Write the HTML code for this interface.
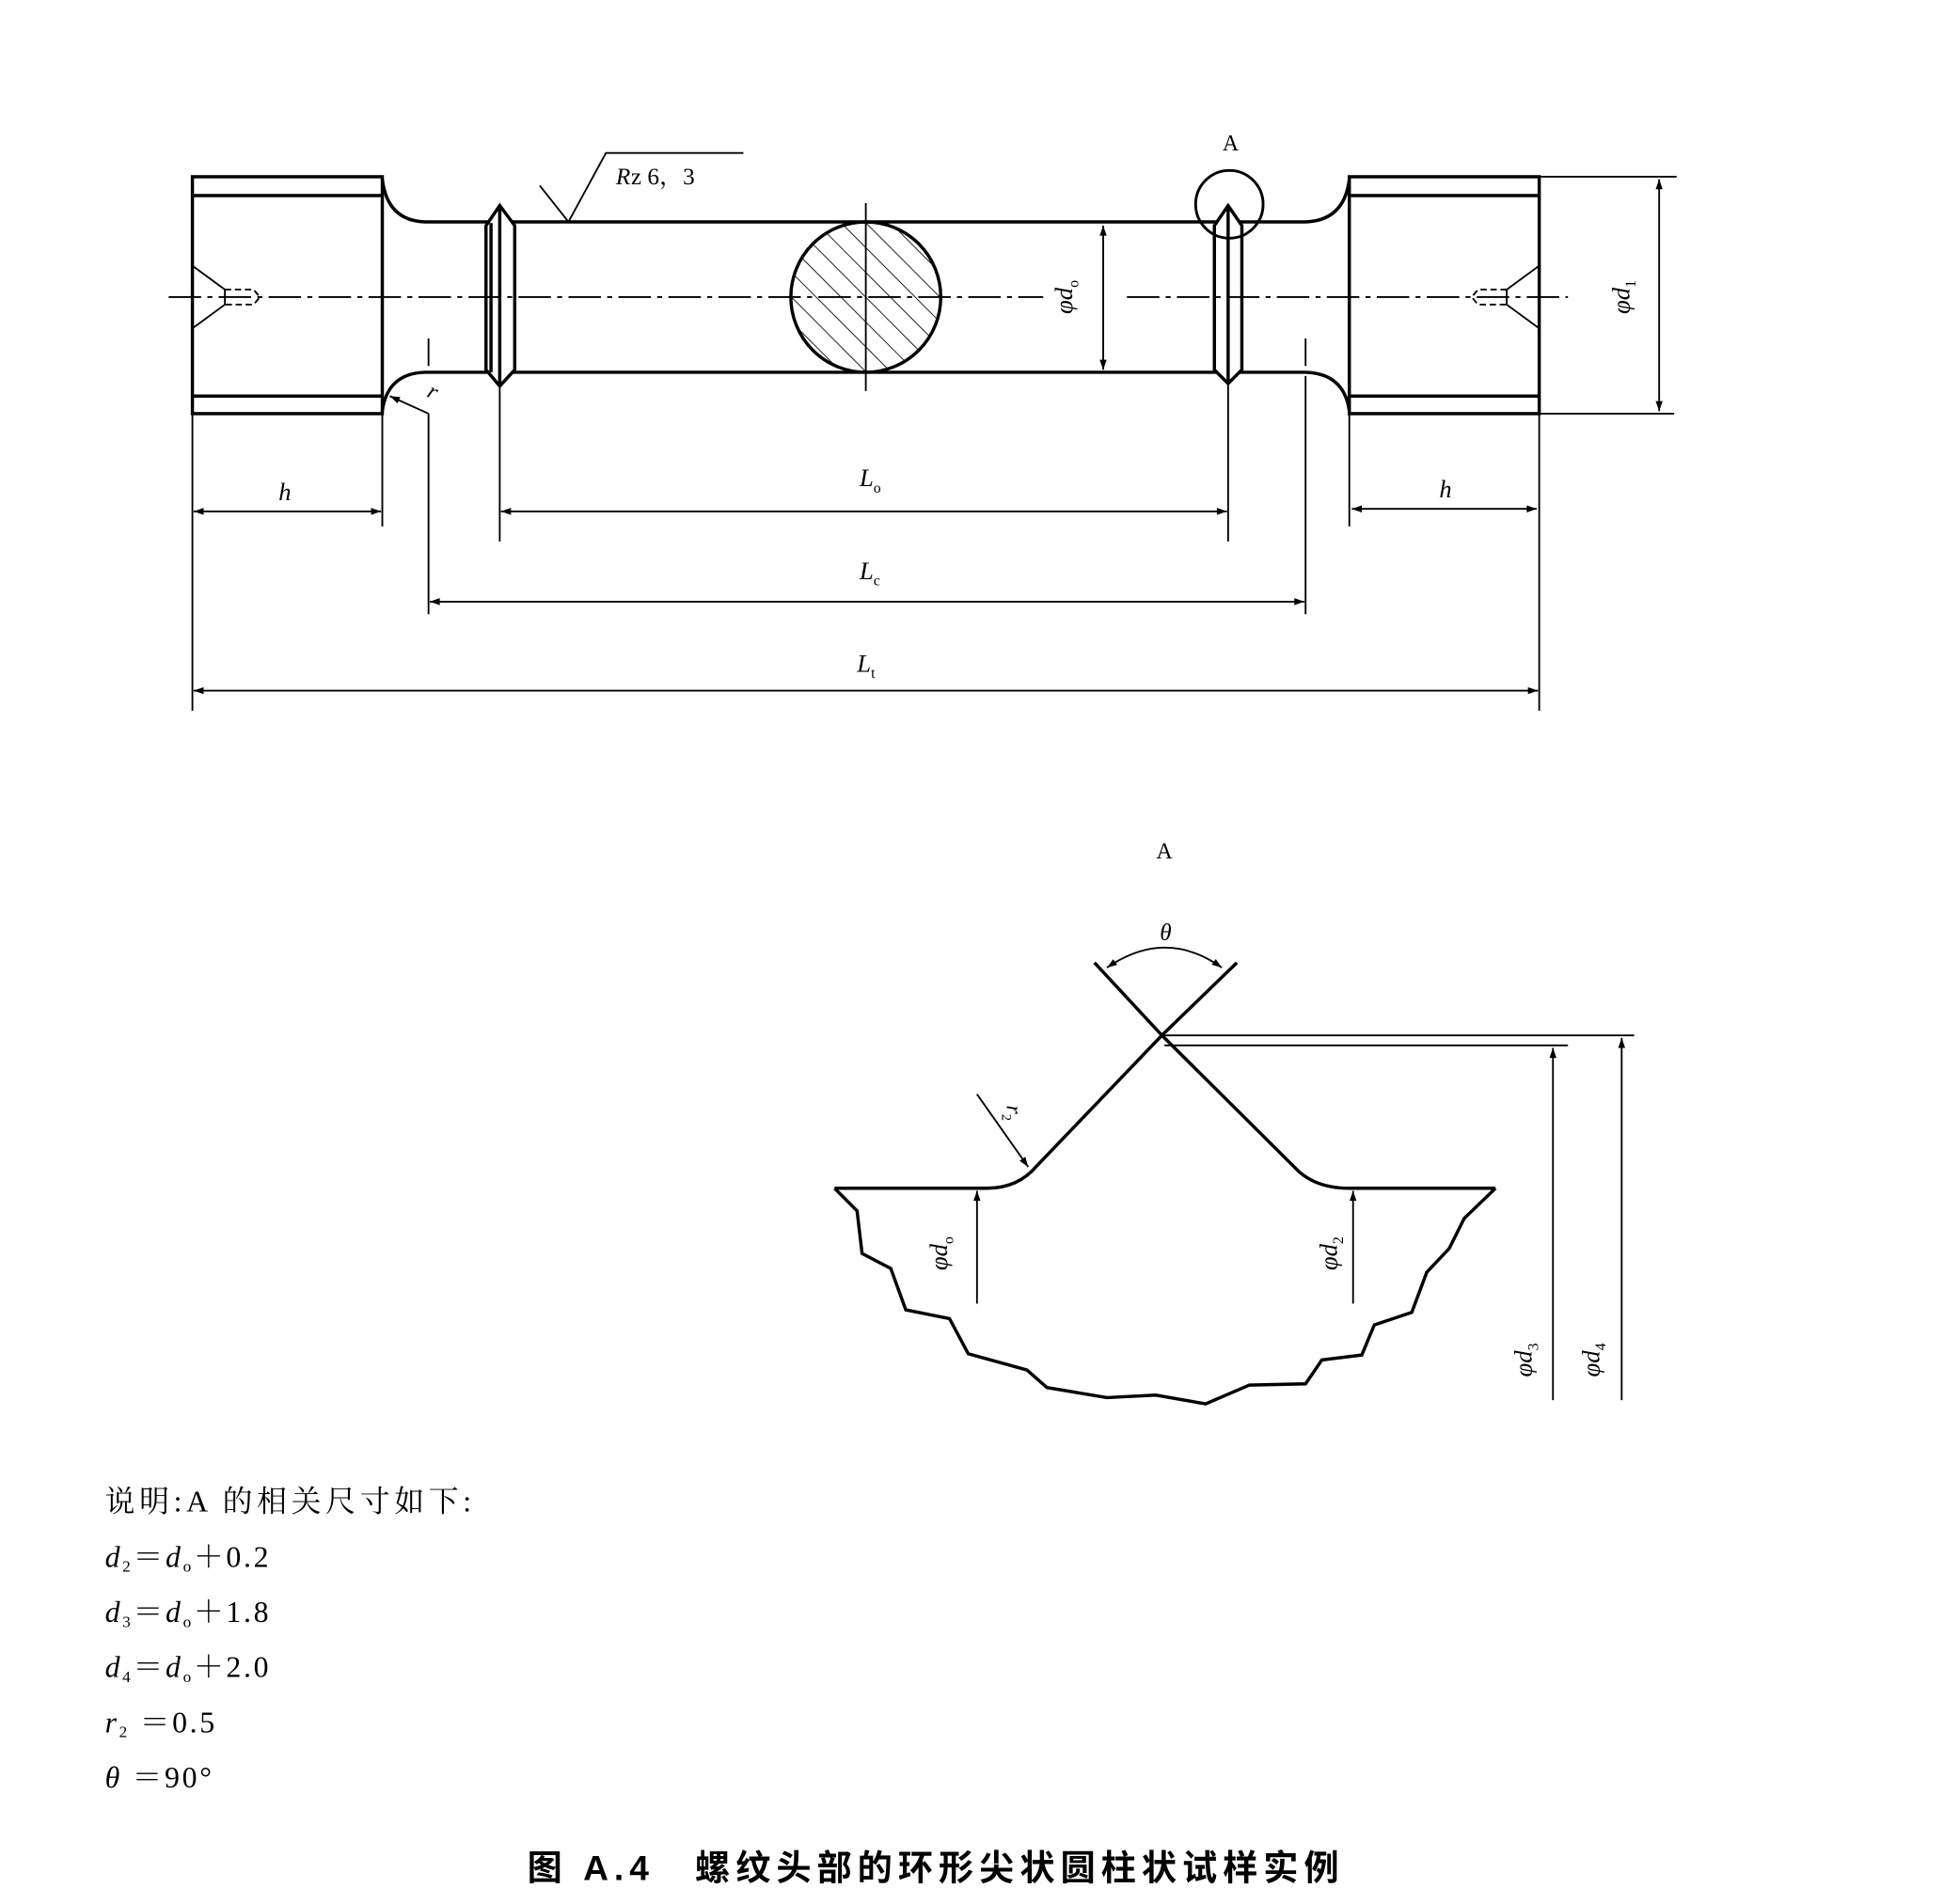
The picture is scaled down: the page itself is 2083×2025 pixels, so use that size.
<!DOCTYPE html>
<html><head><meta charset="utf-8"><style>
html,body{margin:0;padding:0;background:#fff}
svg{display:block}
text{font-family:"Liberation Serif","Noto Serif CJK SC",serif;fill:#000}
.cn{font-family:"Liberation Serif","Noto Serif CJK SC","Noto Sans CJK SC",serif}
</style></head><body>
<svg width="2083" height="2025" viewBox="0 0 1568 1519" preserveAspectRatio="none" xmlns="http://www.w3.org/2000/svg">
<defs>
<marker id="ar" viewBox="0 0 10 10" refX="10" refY="5" markerWidth="14" markerHeight="8" markerUnits="userSpaceOnUse" orient="auto-start-reverse"><path d="M0,1.5 L10,5 L0,8.5 z" fill="#000"/></marker>
<pattern id="hat" width="14" height="14" patternUnits="userSpaceOnUse" patternTransform="rotate(-45)"><line x1="0" y1="0" x2="0" y2="14" stroke="#000" stroke-width="1.3"/></pattern>
</defs>
<g fill="none" stroke="#000" stroke-width="2.6">
<rect x="154" y="141" width="152" height="189"/>
<line x1="154" y1="156" x2="306" y2="156"/>
<line x1="154" y1="316" x2="306" y2="316"/>
<rect x="1080" y="141" width="152" height="189"/>
<line x1="1080" y1="156" x2="1232" y2="156"/>
<line x1="1080" y1="316" x2="1232" y2="316"/>
<path d="M306,143 Q310,176 340,177 L1045,177 Q1076,176 1080,143"/>
<path d="M306,328 Q310,298 340,297 L1045,297 Q1076,298 1080,328"/>
<path d="M389,180 L400,164 L412,180 L412,295 L400,308 L389,295 Z" fill="#fff"/>
<line x1="393" y1="178" x2="393" y2="297"/>
<line x1="400" y1="164" x2="400" y2="308"/>
<path d="M972,180 L983,164 L994,180 L994,295 L983,306 L972,295 Z" fill="#fff"/>
<line x1="983" y1="164" x2="983" y2="306"/>
<circle cx="693" cy="237" r="60" fill="url(#hat)"/>
</g>
<g fill="none" stroke="#000" stroke-width="1.4">
<path d="M154,212 L180,231 L180,243 L154,262"/>
<path d="M180,231 L203,231 L208,237 L203,243 L180,243" stroke-dasharray="5,3"/>
<path d="M1232,212 L1206,231 L1206,243 L1232,262"/>
<path d="M1206,231 L1183,231 L1178,237 L1183,243 L1206,243" stroke-dasharray="5,3"/>
<line x1="135" y1="237" x2="835" y2="237" stroke-dasharray="26,5,4,5"/>
<line x1="902" y1="237" x2="1255" y2="237" stroke-dasharray="26,5,4,5"/>
<line x1="693" y1="162" x2="693" y2="312"/>
<circle cx="984" cy="163" r="27" stroke-width="2.2"/>
<polyline points="432,148 455,177 485,122 595,122"/>
<line x1="883" y1="180" x2="883" y2="295" marker-start="url(#ar)" marker-end="url(#ar)"/>
<line x1="1232" y1="141" x2="1342" y2="141"/>
<line x1="1232" y1="330" x2="1340" y2="330"/>
<line x1="1328" y1="143" x2="1328" y2="328" marker-start="url(#ar)" marker-end="url(#ar)"/>
<line x1="154" y1="330" x2="154" y2="567"/>
<line x1="1232" y1="330" x2="1232" y2="567"/>
<line x1="306" y1="330" x2="306" y2="420"/>
<line x1="1080" y1="330" x2="1080" y2="420"/>
<line x1="400" y1="308" x2="400" y2="432"/>
<line x1="983" y1="306" x2="983" y2="432"/>
<line x1="343" y1="270" x2="343" y2="292"/>
<line x1="343" y1="330" x2="343" y2="490"/>
<line x1="1045" y1="270" x2="1045" y2="292"/>
<line x1="1045" y1="300" x2="1045" y2="490"/>
<polyline points="343,330 312,316" marker-end="url(#ar)"/>
<line x1="155" y1="408" x2="305" y2="408" marker-start="url(#ar)" marker-end="url(#ar)"/>
<line x1="1082" y1="406" x2="1230" y2="406" marker-start="url(#ar)" marker-end="url(#ar)"/>
<line x1="401" y1="408" x2="982" y2="408" marker-start="url(#ar)" marker-end="url(#ar)"/>
<line x1="344" y1="480" x2="1044" y2="480" marker-start="url(#ar)" marker-end="url(#ar)"/>
<line x1="155" y1="551" x2="1231" y2="551" marker-start="url(#ar)" marker-end="url(#ar)"/>
</g>
<text x="493" y="147" font-size="19" font-style="italic">R</text>
<text x="505" y="147" font-size="19">z 6，3</text>
<text x="985" y="120" font-size="18" text-anchor="middle" font-family="Liberation Sans,sans-serif">A</text>
<text x="341" y="316" font-size="18" font-style="italic" transform="rotate(25 341 316)">r</text>
<text x="228" y="399" font-size="20" font-style="italic" text-anchor="middle">h</text>
<text x="1157" y="397" font-size="20" font-style="italic" text-anchor="middle">h</text>
<text x="688" y="388" font-size="20" font-style="italic">L<tspan font-size="12" dy="5" font-style="normal">o</tspan></text>
<text x="688" y="462" font-size="20" font-style="italic">L<tspan font-size="12" dy="5" font-style="normal">c</tspan></text>
<text x="686" y="536" font-size="20" font-style="italic">L<tspan font-size="12" dy="5" font-style="normal">t</tspan></text>
<text transform="translate(858 237) rotate(-90)" font-size="20" font-style="italic" text-anchor="middle">φd<tspan font-size="12" dy="5" font-style="normal">o</tspan></text>
<text transform="translate(1304 237) rotate(-90)" font-size="20" font-style="italic" text-anchor="middle">φd<tspan font-size="12" dy="5" font-style="normal">1</tspan></text>

<text x="932" y="685" font-size="18" text-anchor="middle" font-family="Liberation Sans,sans-serif">A</text>
<text x="933" y="750" font-size="19" font-style="italic" text-anchor="middle">θ</text>
<g fill="none" stroke="#000" stroke-width="2.6">
<path d="M876,768 L930,826 L1040,935 Q1055,948 1080,948 L1197,948"/>
<path d="M990,768 L930,826 L830,930 Q815,948 790,948 L668,948"/>
<path d="M668,948 L686,966 L690,1000 L713,1012 L725,1045 L760,1052 L775,1080 L822,1093 L838,1107 L886,1115 L925,1113 L965,1120 L1000,1105 L1045,1104 L1058,1085 L1090,1081 L1100,1057 L1130,1047 L1142,1015 L1160,996 L1172,972 L1197,948"/>
</g>
<g fill="none" stroke="#000" stroke-width="1.4">
<path d="M886,772 Q933,740 978,772" marker-start="url(#ar)" marker-end="url(#ar)"/>
<line x1="930" y1="826" x2="1308" y2="826"/>
<line x1="932" y1="834" x2="1255" y2="834"/>
<line x1="1243" y1="1117" x2="1243" y2="836" marker-end="url(#ar)"/>
<line x1="1298" y1="1117" x2="1298" y2="828" marker-end="url(#ar)"/>
<line x1="782" y1="1040" x2="782" y2="950" marker-end="url(#ar)"/>
<line x1="1083" y1="1040" x2="1083" y2="950" marker-end="url(#ar)"/>
<line x1="782" y1="873" x2="823" y2="931" marker-end="url(#ar)"/>
</g>
<text transform="translate(806 888) rotate(90)" font-size="18" font-style="italic" text-anchor="middle">r<tspan font-size="11" dy="4" font-style="normal">2</tspan></text>
<text transform="translate(758 1000) rotate(-90)" font-size="20" font-style="italic" text-anchor="middle">φd<tspan font-size="12" dy="5" font-style="normal">o</tspan></text>
<text transform="translate(1070 1000) rotate(-90)" font-size="20" font-style="italic" text-anchor="middle">φd<tspan font-size="12" dy="5" font-style="normal">2</tspan></text>
<text transform="translate(1226 1085) rotate(-90)" font-size="20" font-style="italic" text-anchor="middle">φd<tspan font-size="12" dy="5" font-style="normal">3</tspan></text>
<text transform="translate(1280 1085) rotate(-90)" font-size="20" font-style="italic" text-anchor="middle">φd<tspan font-size="12" dy="5" font-style="normal">4</tspan></text>

<text class="cn" x="84" y="1206" font-size="24" letter-spacing="3.5">说明:A 的相关尺寸如下:</text>
<g font-size="24" letter-spacing="2">
<text x="84" y="1250"><tspan font-style="italic">d</tspan><tspan font-size="13" dy="4">2</tspan><tspan dy="-4">＝</tspan><tspan font-style="italic">d</tspan><tspan font-size="13" dy="4">o</tspan><tspan dy="-4">＋0.2</tspan></text>
<text x="84" y="1294"><tspan font-style="italic">d</tspan><tspan font-size="13" dy="4">3</tspan><tspan dy="-4">＝</tspan><tspan font-style="italic">d</tspan><tspan font-size="13" dy="4">o</tspan><tspan dy="-4">＋1.8</tspan></text>
<text x="84" y="1338"><tspan font-style="italic">d</tspan><tspan font-size="13" dy="4">4</tspan><tspan dy="-4">＝</tspan><tspan font-style="italic">d</tspan><tspan font-size="13" dy="4">o</tspan><tspan dy="-4">＋2.0</tspan></text>
<text x="84" y="1382"><tspan font-style="italic">r</tspan><tspan font-size="13" dy="4">2</tspan><tspan dy="-4"> ＝0.5</tspan></text>
<text x="84" y="1426"><tspan font-style="italic">θ</tspan><tspan>  ＝90°</tspan></text>
</g>

<text x="422" y="1500" font-size="28" font-weight="bold" letter-spacing="4.5" style="font-family:'Liberation Sans','Noto Sans CJK SC',sans-serif">图 A.4　螺纹头部的环形尖状圆柱状试样实例</text>
</svg>
</body></html>
